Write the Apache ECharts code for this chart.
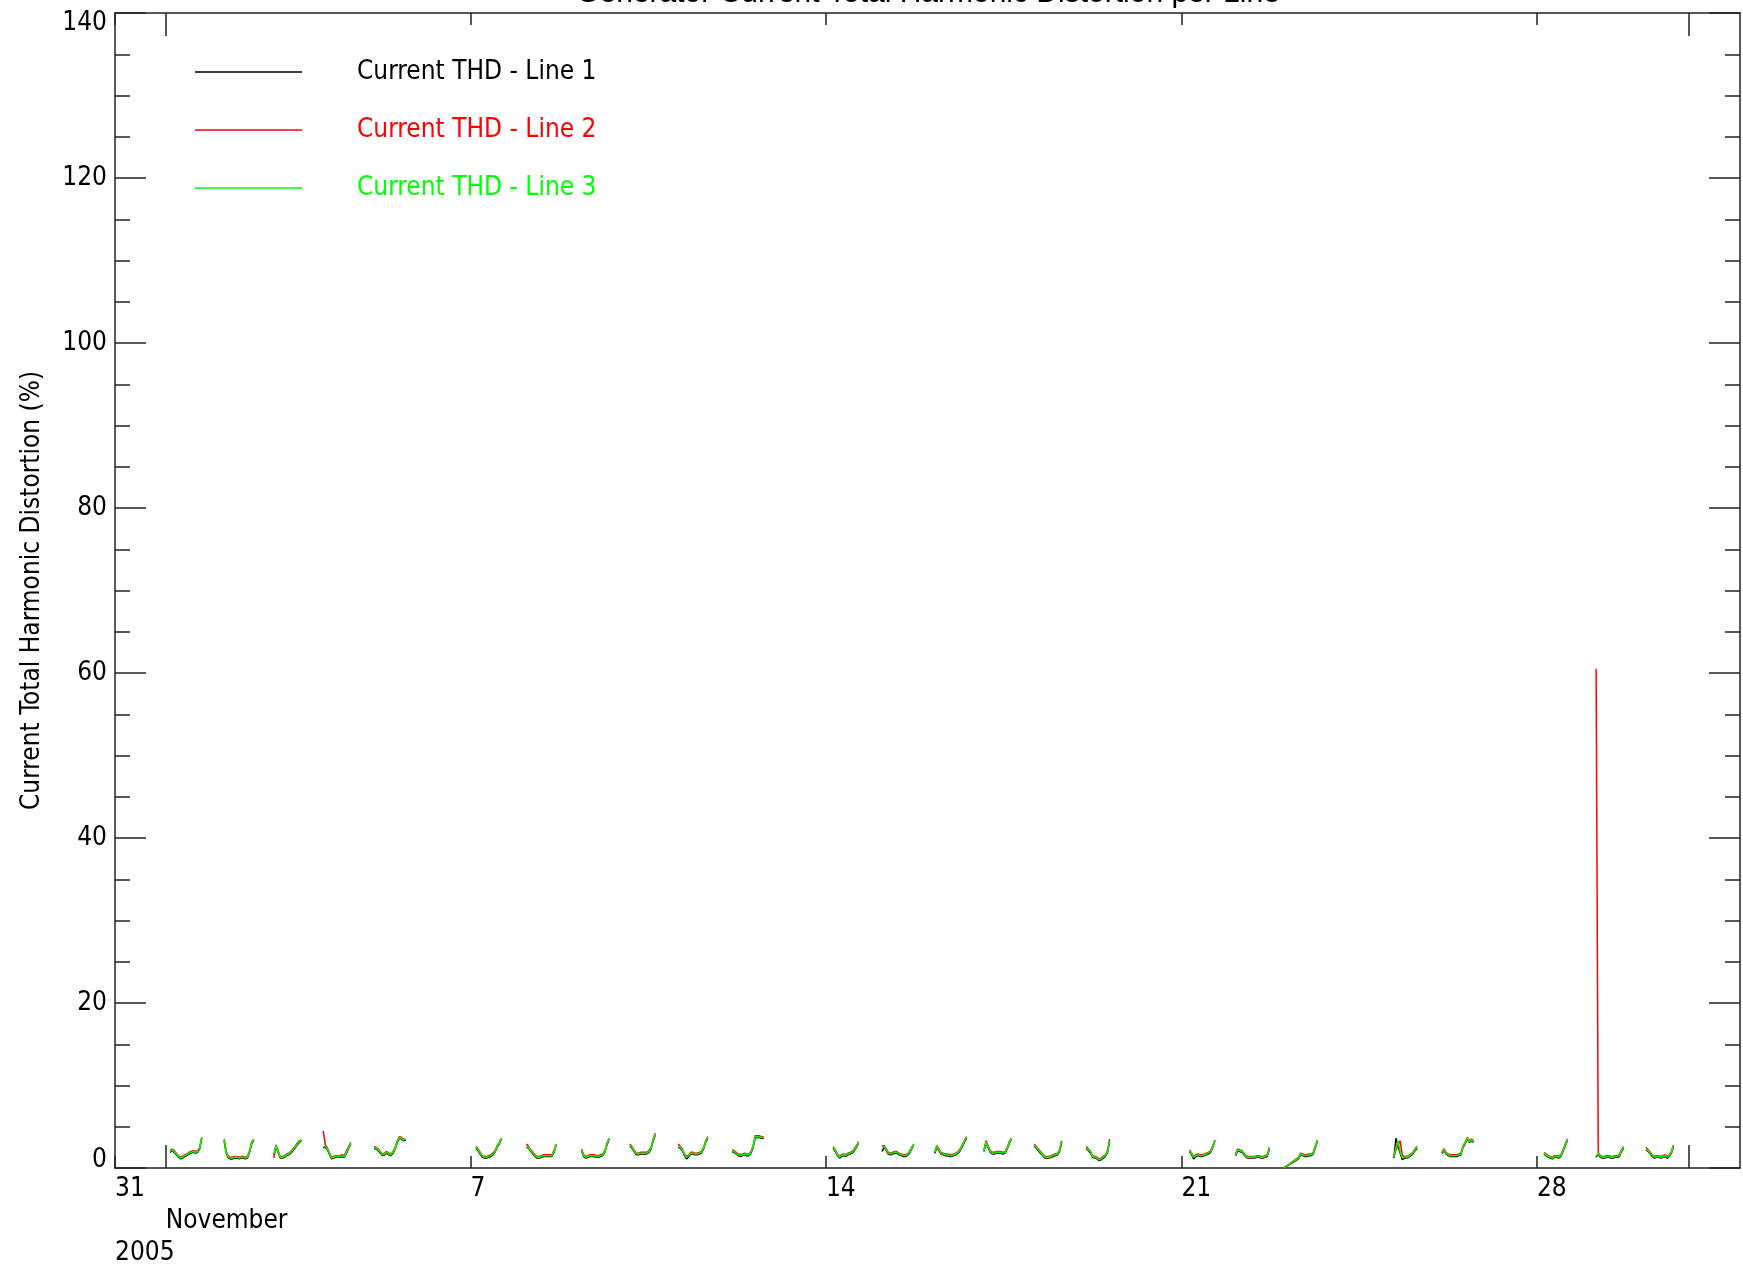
<!DOCTYPE html>
<html><head><meta charset="utf-8">
<script src="https://cdn.jsdelivr.net/npm/echarts@6/dist/echarts.min.js"></script>
<style>html,body{margin:0;padding:0;background:#fff}#c{width:1743px;height:1272px}</style>
</head><body><div id="c"></div>
<script>
const chartTitle = 'Generator Current Total Harmonic Distortion per Line';
const yAxisTitle = 'Current Total Harmonic Distortion (%)';
const seriesNames = ['Current THD - Line 1', 'Current THD - Line 2', 'Current THD - Line 3'];
const seriesColors = ['#000000', '#ff0000', '#00ff00'];
const xRange = ['2005-10-31 00:00', '2005-12-02 00:00'];
const weekTicks = ['2005-10-31', '2005-11-07', '2005-11-14', '2005-11-21', '2005-11-28'];
const monthTicks = ['2005-11-01', '2005-12-01'];
const monthLabelTicks = ['2005-11-01'];
const monthNames = ['January','February','March','April','May','June','July','August','September','October','November','December'];
const yearLabel = '2005';
const yMin = 0, yMax = 140, yStep = 20;

// start time of each daily recording segment; values are hourly samples
const segmentStarts = [
  '2005-11-01 02:00','2005-11-02 03:35','2005-11-03 03:05','2005-11-04 02:25','2005-11-05 02:25',
  '2005-11-07 02:35','2005-11-08 02:30','2005-11-09 04:30','2005-11-10 03:20','2005-11-11 02:10','2005-11-12 03:35',
  '2005-11-14 03:25','2005-11-15 02:30','2005-11-16 03:25','2005-11-17 02:40','2005-11-18 02:25','2005-11-19 03:05',
  '2005-11-21 03:50','2005-11-22 01:35','2005-11-23 00:20','2005-11-25 04:25','2005-11-26 03:05',
  '2005-11-28 03:20','2005-11-29 04:00','2005-11-30 03:35'
];

const line1 = [
  [1.9,2.1,1.9,1.6,1.3,1.1,1.2,1.4,1.5,1.7,1.8,1.9,1.8,1.9,2.3,3.6],
  [3.3,1.8,1.2,1.1,1.1,1.2,1.2,1.1,1.2,1.2,1.1,1.2,1.9,2.9,3.4],
  [1.6,2.6,1.9,1.2,1.2,1.3,1.5,1.6,1.8,2.1,2.4,2.8,3.1,3.3],
  [2.5,2.5,2.2,1.6,1.1,1.2,1.3,1.3,1.3,1.4,1.3,1.8,2.4,2.9],
  [2.4,2.3,2.1,1.8,1.5,1.6,1.8,1.6,1.5,1.8,2.3,3.1,3.6,3.5,3.3,3.4],
  [2.4,2.1,1.7,1.3,1.2,1.2,1.3,1.4,1.6,1.9,2.5,2.9,3.5],
  [2.5,2.4,2.0,1.7,1.4,1.2,1.2,1.3,1.4,1.4,1.4,1.4,1.4,1.9,2.8],
  [2.1,1.4,1.2,1.3,1.4,1.4,1.4,1.3,1.3,1.4,1.5,1.9,2.8,3.5],
  [2.7,2.4,2.0,1.6,1.6,1.7,1.7,1.7,1.7,1.9,2.3,3.3,4.0],
  [2.5,2.4,2.1,1.5,1.1,1.4,1.7,1.7,1.6,1.6,1.7,1.8,2.3,3.1,3.6],
  [2.0,1.9,1.7,1.5,1.4,1.5,1.6,1.5,1.5,1.8,2.5,3.7,3.7,3.7,3.6,3.6],
  [2.4,2.0,1.5,1.2,1.4,1.5,1.4,1.6,1.7,1.8,2.1,2.5,3.0],
  [2.0,2.5,2.1,1.7,1.6,1.7,1.8,1.8,1.6,1.5,1.4,1.4,1.5,1.8,2.3,2.8],
  [1.8,2.5,2.1,1.7,1.6,1.5,1.5,1.4,1.4,1.5,1.6,1.8,2.1,2.6,3.1,3.6],
  [2.0,3.0,2.5,1.9,1.7,1.7,1.8,1.8,1.8,1.7,1.8,2.3,3.0,3.5],
  [2.7,2.4,2.1,1.8,1.5,1.2,1.2,1.2,1.3,1.4,1.5,1.6,2.0,3.1],
  [2.4,2.1,1.8,1.3,1.2,1.1,0.9,1.0,1.2,1.4,1.9,3.2],
  [2.0,1.6,1.1,1.4,1.5,1.4,1.4,1.5,1.6,1.7,1.9,2.5,3.3],
  [1.5,2.1,2.0,1.9,1.6,1.3,1.2,1.2,1.2,1.2,1.3,1.3,1.2,1.2,1.3,1.4,2.3],
  [0.0,,,,,,,1.1,1.6,1.5,1.4,1.4,1.5,1.5,1.7,2.5,3.3],
  [1.2,3.6,2.6,1.8,1.0,1.2,1.2,1.3,1.5,1.7,2.1,2.4],
  [1.8,2.1,1.7,1.5,1.4,1.4,1.4,1.4,1.5,1.6,2.5,2.9,3.5,3.1,3.3,3.1],
  [1.7,1.5,1.3,1.2,1.1,1.3,1.3,1.2,1.4,2.0,2.6,3.3],
  [1.3,1.7,1.3,1.2,1.2,1.3,1.3,1.2,1.2,1.3,1.3,1.4,2.0,2.4],
  [2.2,2.0,1.7,1.4,1.2,1.3,1.3,1.2,1.3,1.4,1.2,1.4,1.8,2.6]
];

const line2 = [
  [2.1,2.3,2.1,1.8,1.5,1.3,1.4,1.6,1.7,1.9,2.0,2.1,2.0,2.1,2.5,3.7],
  [3.5,2.0,1.4,1.3,1.3,1.4,1.4,1.3,1.4,1.4,1.3,1.4,2.1,3.1,3.5],
  [1.2,2.8,2.1,1.4,1.4,1.5,1.7,1.8,2.0,2.3,2.6,3.0,3.3,3.4],
  [4.5,2.8,2.4,1.8,1.3,1.4,1.5,1.5,1.5,1.6,1.5,2.1,2.6,3.1],
  [2.6,2.5,2.3,2.0,1.7,1.8,2.0,1.8,1.7,2.0,2.5,3.3,3.8,3.7,3.5,3.5],
  [2.6,2.3,1.9,1.5,1.4,1.4,1.5,1.6,1.8,2.1,2.7,3.1,3.6],
  [2.9,2.6,2.2,1.9,1.6,1.4,1.4,1.5,1.6,1.6,1.6,1.6,1.6,2.1,2.9],
  [2.3,1.6,1.4,1.5,1.6,1.6,1.6,1.5,1.5,1.6,1.7,2.1,3.0,3.6],
  [2.9,2.6,2.2,1.8,1.8,1.9,1.9,1.9,1.9,2.1,2.5,3.5,4.2],
  [2.9,2.6,2.3,1.7,1.4,1.6,1.9,1.9,1.8,1.8,1.9,2.0,2.5,3.3,3.8],
  [2.2,2.1,1.9,1.7,1.6,1.7,1.8,1.7,1.7,2.0,2.7,3.9,3.9,3.9,3.8,3.8],
  [2.6,2.2,1.7,1.4,1.6,1.7,1.6,1.8,1.9,2.0,2.3,2.7,3.2],
  [2.7,2.7,2.3,1.9,1.8,1.9,2.0,2.0,1.8,1.7,1.6,1.6,1.7,2.0,2.5,2.9],
  [2.0,2.7,2.3,1.9,1.8,1.7,1.7,1.6,1.6,1.7,1.8,2.0,2.3,2.8,3.3,3.8],
  [2.2,3.3,2.7,2.1,1.9,1.9,2.0,2.0,2.0,1.9,2.0,2.5,3.2,3.6],
  [2.9,2.6,2.3,2.0,1.7,1.4,1.4,1.4,1.5,1.6,1.7,1.8,2.2,3.3],
  [2.6,2.3,2.0,1.5,1.4,1.3,1.1,1.2,1.4,1.6,2.1,3.5],
  [2.2,1.8,1.4,1.6,1.7,1.6,1.6,1.7,1.8,1.9,2.1,2.7,3.4],
  [1.7,2.3,2.2,2.1,1.8,1.5,1.4,1.4,1.4,1.4,1.5,1.5,1.4,1.4,1.5,1.6,2.5],
  [0.0,,,,,,,1.3,1.8,1.7,1.6,1.6,1.7,1.7,1.9,2.7,3.4],
  [1.3,2.2,2.8,3.3,1.5,1.4,1.4,1.5,1.7,1.9,2.3,2.6],
  [2.0,2.3,1.9,1.7,1.6,1.6,1.6,1.6,1.7,1.8,2.7,3.1,3.7,3.3,3.5,3.3],
  [1.9,1.7,1.5,1.4,1.3,1.5,1.5,1.4,1.6,2.2,2.8,3.5],
  [60.5,1.9,1.5,1.4,1.4,1.5,1.5,1.4,1.4,1.5,1.5,1.6,2.2,2.6],
  [2.5,2.2,1.9,1.6,1.4,1.5,1.5,1.4,1.5,1.6,1.4,1.6,2.0,2.8]
];

const line3 = [
  [2.0,2.2,2.0,1.7,1.4,1.2,1.3,1.5,1.6,1.8,1.9,2.0,1.9,2.0,2.4,3.7],
  [3.4,1.9,1.3,1.2,1.2,1.3,1.3,1.2,1.3,1.3,1.2,1.3,2.0,3.0,3.5],
  [1.7,2.7,2.0,1.3,1.3,1.4,1.6,1.7,1.9,2.2,2.5,2.9,3.2,3.4],
  [2.6,2.6,2.3,1.7,1.2,1.3,1.4,1.4,1.4,1.5,1.4,1.9,2.5,3.0],
  [2.5,2.4,2.2,1.9,1.6,1.7,1.9,1.7,1.6,1.9,2.4,3.2,3.7,3.6,3.4,3.5],
  [2.5,2.2,1.8,1.4,1.3,1.3,1.4,1.5,1.7,2.0,2.6,3.0,3.6],
  [2.6,2.5,2.1,1.8,1.5,1.3,1.3,1.4,1.5,1.5,1.5,1.5,1.5,2.0,2.9],
  [2.2,1.5,1.3,1.4,1.5,1.5,1.5,1.4,1.4,1.5,1.6,2.0,2.9,3.6],
  [2.8,2.5,2.1,1.7,1.7,1.8,1.8,1.8,1.8,2.0,2.4,3.4,4.1],
  [2.6,2.5,2.2,1.6,1.3,1.5,1.8,1.8,1.7,1.7,1.8,1.9,2.4,3.2,3.7],
  [2.1,2.0,1.8,1.6,1.5,1.6,1.7,1.6,1.6,1.9,2.6,3.8,3.8,3.8,3.7,3.7],
  [2.5,2.1,1.6,1.3,1.5,1.6,1.5,1.7,1.8,1.9,2.2,2.6,3.1],
  [2.5,2.6,2.2,1.8,1.7,1.8,1.9,1.9,1.7,1.6,1.5,1.5,1.6,1.9,2.4,2.9],
  [1.9,2.6,2.2,1.8,1.7,1.6,1.6,1.5,1.5,1.6,1.7,1.9,2.2,2.7,3.2,3.7],
  [2.1,3.1,2.6,2.0,1.8,1.8,1.9,1.9,1.9,1.8,1.9,2.4,3.1,3.6],
  [2.8,2.5,2.2,1.9,1.6,1.3,1.3,1.3,1.4,1.5,1.6,1.7,2.1,3.2],
  [2.5,2.2,1.9,1.4,1.3,1.2,1.0,1.1,1.3,1.5,2.0,3.3],
  [2.1,1.7,1.3,1.5,1.6,1.5,1.5,1.6,1.7,1.8,2.0,2.6,3.4],
  [1.6,2.2,2.1,2.0,1.7,1.4,1.3,1.3,1.3,1.3,1.4,1.4,1.3,1.3,1.4,1.5,2.4],
  [0.0,,,,,,,1.2,1.7,1.6,1.5,1.5,1.6,1.6,1.8,2.6,3.4],
  [1.3,2.5,3.3,2.0,1.2,1.3,1.3,1.4,1.6,1.8,2.2,2.5],
  [1.9,2.2,1.8,1.6,1.5,1.5,1.5,1.5,1.6,1.7,2.6,3.0,3.6,3.2,3.4,3.2],
  [1.8,1.6,1.4,1.3,1.2,1.4,1.4,1.3,1.5,2.1,2.7,3.4],
  [1.4,1.8,1.4,1.3,1.3,1.4,1.4,1.3,1.3,1.4,1.4,1.5,2.1,2.5],
  [2.3,2.1,1.8,1.5,1.3,1.4,1.4,1.3,1.4,1.5,1.3,1.5,1.9,2.7]
];

function ts(s) {
  const parts = s.split(' ');
  const [Y, M, D] = parts[0].split('-').map(Number);
  const [h, m] = (parts[1] || '00:00').split(':').map(Number);
  return Date.UTC(Y, M - 1, D, h, m);
}
const HOUR = 3600e3;
function build(vals) {
  const out = [];
  vals.forEach((seg, i) => {
    const t0 = ts(segmentStarts[i]);
    for (let k = 0; k < seg.length; k++) {
      if (seg[k] === undefined) continue;
      out.push([t0 + k * HOUR, seg[k]]);
    }
    out.push([t0 + seg.length * HOUR, '-']);
  });
  return out;
}

const NARROW = "'Liberation Sans Narrow', 'Arial Narrow', 'DejaVu Sans Condensed', sans-serif";
const FS = 26;
const AX = '#222';
const xMin = ts(xRange[0]), xMax = ts(xRange[1]);
const weekVals = weekTicks.map(ts), monthVals = monthTicks.map(ts), monthLabelVals = monthLabelTicks.map(ts);

function xAxisBase(pos, tickVals, len, showLine) {
  return {
    type: 'value', position: pos, min: xMin, max: xMax,
    axisLine: { show: showLine, onZero: false, lineStyle: { color: AX, width: 1.5 } },
    axisTick: { show: true, inside: true, length: len, customValues: tickVals, lineStyle: { color: AX, width: 1.5 } },
    axisLabel: { show: false },
    splitLine: { show: false }
  };
}

const xa0 = xAxisBase('bottom', weekVals, 12, true);
xa0.axisLabel = {
  show: true, customValues: weekVals, align: 'left', margin: 5,
  fontSize: FS, lineHeight: 32, fontFamily: NARROW, color: '#000',
  formatter: v => {
    const d = new Date(v).getUTCDate();
    return v === weekVals[0] ? d + '\n\n' + yearLabel : String(d);
  }
};
const xa1 = xAxisBase('bottom', monthVals, 23, false);
xa1.axisLabel = {
  show: true, customValues: monthLabelVals, align: 'left', margin: 5,
  fontSize: FS, lineHeight: 32, fontFamily: NARROW, color: '#000',
  formatter: v => '\n' + monthNames[new Date(v).getUTCMonth()]
};
const xa2 = xAxisBase('top', weekVals, 12, true);
const xa3 = xAxisBase('top', monthVals, 23, false);

function yAxisBase(pos, showLabel) {
  return {
    type: 'value', position: pos, min: yMin, max: yMax, interval: yStep,
    axisLine: { show: true, lineStyle: { color: AX, width: 1.5 } },
    axisTick: { show: true, inside: true, length: 31, lineStyle: { color: AX, width: 1.5 } },
    minorTick: { show: true, splitNumber: 4, length: 15, lineStyle: { color: AX, width: 1.5 } },
    splitLine: { show: false }, minorSplitLine: { show: false },
    axisLabel: {
      show: showLabel, margin: 8, fontSize: FS, fontFamily: NARROW, color: '#000',
      formatter: v => v === yMax ? '{t|' + v + '}' : (v === yMin ? '{b|' + v + '}' : String(v)),
      rich: {
        t: { fontSize: FS, fontFamily: NARROW, color: '#000', padding: [20, 0, 0, 0] },
        b: { fontSize: FS, fontFamily: NARROW, color: '#000', padding: [0, 0, 16, 0] }
      }
    }
  };
}
const ya0 = yAxisBase('left', true);
ya0.name = yAxisTitle;
ya0.nameLocation = 'middle';
ya0.nameGap = 70;
ya0.nameTextStyle = { fontSize: FS, fontFamily: NARROW, color: '#000' };
const ya1 = yAxisBase('right', false);

const allLines = [line1, line2, line3];
const option = {
  animation: false,
  backgroundColor: '#fff',
  title: {
    text: chartTitle, left: 928, top: -21, textAlign: 'center', padding: 0,
    textStyle: { fontSize: 30, fontWeight: 'normal', fontFamily: "'Liberation Sans', Arial, sans-serif", color: '#000' }
  },
  grid: { left: 115, right: 3, top: 13, bottom: 104, containLabel: false },
  legend: {
    orient: 'vertical', left: 190, top: 52, itemGap: 28, itemWidth: 107, itemHeight: 1.5,
    icon: 'rect', selectedMode: false,
    data: seriesNames.map((n, i) => ({ name: n, textStyle: { color: seriesColors[i] } })),
    textStyle: { fontSize: FS, lineHeight: 30, fontFamily: NARROW, padding: [0, 0, 0, 50] }
  },
  xAxis: [xa0, xa1, xa2, xa3],
  yAxis: [ya0, ya1],
  series: allLines.map((vals, i) => ({
    name: seriesNames[i], type: 'line', xAxisIndex: 0, yAxisIndex: 0,
    data: build(vals), showSymbol: false, symbol: 'none', connectNulls: false,
    color: seriesColors[i], lineStyle: { color: seriesColors[i], width: 1.5 },
    z: 2 + i
  }))
};
const chart = echarts.init(document.getElementById('c'), null, { renderer: 'canvas' });
chart.setOption(option);
</script>
</body></html>
